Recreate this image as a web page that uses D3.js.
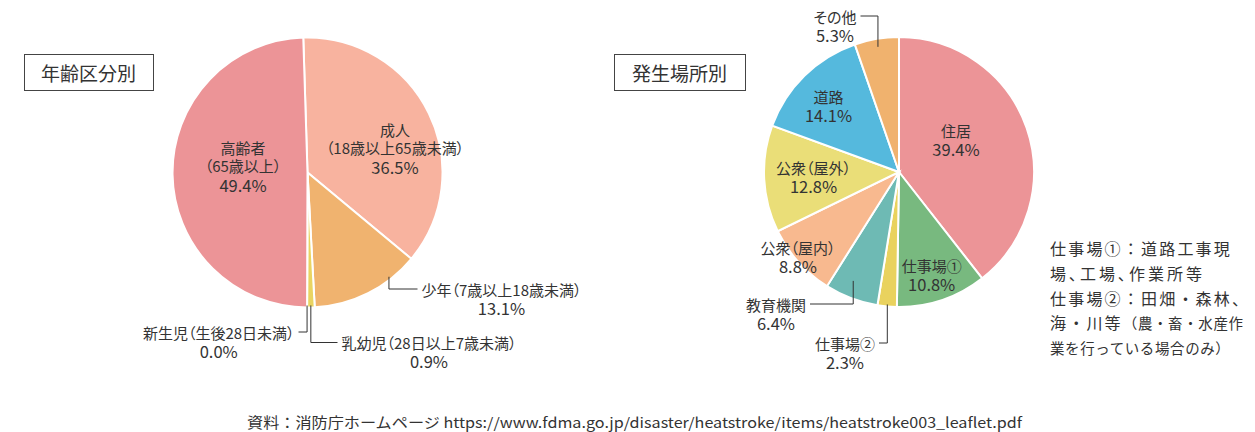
<!DOCTYPE html>
<html>
<head>
<meta charset="utf-8">
<script src="https://cdn.jsdelivr.net/npm/d3@7"></script>
<style>
  body { margin: 0; background: #fff; }
  svg text { font-family: "Noto Sans CJK JP", "Noto Sans", sans-serif; fill: #333; }
  .lbl, .palt { font-feature-settings: "palt"; }
</style>
</head>
<body>
<svg id="chart" width="1255" height="432"></svg>
<script>
// 年齢区分別
const ageLabels = [
  ["成人", "（18歳以上65歳未満）"],
  ["少年（7歳以上18歳未満）"],
  ["乳幼児（28日以上7歳未満）"],
  ["新生児（生後28日未満）"],
  ["高齢者", "（65歳以上）"]
];
const ageValues = [36.5, 13.1, 0.9, 0.0, 49.4];
const ageColors = ["#f8b39f", "#f0b36f", "#e9d462", "#e9d462", "#ec9497"];

// 発生場所別
const placeLabels = [
  ["住居"], ["仕事場①"], ["仕事場②"], ["教育機関"],
  ["公衆（屋内）"], ["公衆（屋外）"], ["道路"], ["その他"]
];
const placeValues = [39.4, 10.8, 2.3, 6.4, 8.8, 12.8, 14.1, 5.3];
const placeColors = ["#ec9497", "#78b97f", "#e9d25e", "#6ebab4",
  "#f8b98f", "#eade78", "#55b9dd", "#f0b26e"];

const noteLines = [
  [["仕事場①：道路工事現", 16, false]],
  [["場、工場、作業所等", 16, true]],
  [["仕事場②：田畑・森林、", 16, false]],
  [["海・川等", 16, false], ["（農・畜・水産作", 14.5, false]],
  [["業を行っている場合のみ）", 14.5, false]]
];
const sourceText = "資料：消防庁ホームページ https://www.fdma.go.jp/disaster/heatstroke/items/heatstroke003_leaflet.pdf";

// label placement relative to pie centre (t, k = leader start inside slice)
const ageLayout = [
  { x: 87.5, y: -43.5 },
  { x: 194, y: 116.5, t: 0.26, k: 0.98 },
  { x: 121.5, y: 170, t: 0.5, k: 0.985 },
  { x: -88.8, y: 159.5, t: 0.5, k: 0.985 },
  { x: -64.5, y: -25.5 }
];
const placeLayout = [
  { x: 57, y: -42 },
  { x: 32.7, y: 93 },
  { x: -54, y: 171, t: 0.5, k: 0.985 },
  { x: -123, y: 132, t: 0.59, k: 0.875 },
  { x: -101, y: 75 },
  { x: -85.5, y: -5 },
  { x: -70.5, y: -76 },
  { x: -64, y: -156, t: 0.5, k: 0.94 }
];

const svg = d3.select("#chart");
const R = 135;
const lineH = 18.8;
const fmt = (v) => d3.format(".1f")(v) + "%";

let drawPie = (cx, cy, labels, values, colors, layout, a0) => {
  let data = values.map((v, i) => ({ value: v, lines: labels[i], color: colors[i], lay: layout[i] }));
  let pie = d3.pie().sort(null).value((d) => d.value).startAngle(a0).endAngle(a0 + 2 * Math.PI);
  let arc = d3.arc().innerRadius(0).outerRadius(R);
  let g = svg.append("g").attr("transform", `translate(${cx}, ${cy})`);

  g.selectAll("path.slice")
    .data(pie(data))
    .enter()
    .append("path")
    .attr("class", "slice")
    .attr("d", arc)
    .attr("fill", (d) => d.data.color)
    .attr("stroke", "#fff")
    .attr("stroke-width", 2);

  pie(data).forEach((d) => {
    let lay = d.data.lay;
    let lines = d.data.lines.concat([fmt(d.data.value)]);
    let t = g.append("text")
      .attr("class", "lbl")
      .attr("text-anchor", "middle")
      .attr("font-size", 15);
    lines.forEach((s, j) => {
      t.append("tspan")
        .attr("x", lay.x)
        .attr("y", lay.y + j * lineH)
        .attr("dominant-baseline", "central")
        .attr("font-size", j === lines.length - 1 ? 16.5 : 15)
        .text(s);
    });

    if (lay.t !== undefined) {
      let a = d.startAngle + lay.t * (d.endAngle - d.startAngle);
      let r = lay.k * R;
      let sx = Math.sin(a) * r;
      let sy = -Math.cos(a) * r;
      let w = t.select("tspan").node().getComputedTextLength();
      let ex = lay.x > sx ? lay.x - w / 2 - 4 : lay.x + w / 2 + 4;
      g.append("path")
        .attr("d", `M${sx},${sy}V${lay.y}H${ex}`)
        .attr("fill", "none")
        .attr("stroke", "#333")
        .attr("stroke-width", 1);
    }
  });
};

let drawTitle = (x, y, w, h, label) => {
  svg.append("rect")
    .attr("x", x + 0.5).attr("y", y + 0.5)
    .attr("width", w).attr("height", h)
    .attr("fill", "#fff")
    .attr("stroke", "#444")
    .attr("stroke-width", 1);
  svg.append("text")
    .attr("x", x + w / 2).attr("y", y + h / 2)
    .attr("text-anchor", "middle")
    .attr("dominant-baseline", "central")
    .attr("font-size", 19)
    .text(label);
};

drawPie(307.5, 172.5, ageLabels, ageValues, ageColors, ageLayout, -1.8 * Math.PI / 180);
drawPie(899, 172, placeLabels, placeValues, placeColors, placeLayout, 0);

drawTitle(24, 54, 129, 36, "年齢区分別");
drawTitle(614, 54, 131, 36, "発生場所別");

noteLines.forEach((parts, i) => {
  let line = svg.append("text")
    .attr("x", 1050)
    .attr("y", 248 + i * 24.8)
    .attr("dominant-baseline", "central");
  parts.forEach((p) => {
    line.append("tspan")
      .attr("class", p[2] ? "palt" : null)
      .attr("font-size", p[1])
      .attr("letter-spacing", p[2] ? 3 : p[1] > 15 ? 2.2 : 0.6)
      .text(p[0]);
  });
});

svg.append("text")
  .attr("x", 247)
  .attr("y", 421)
  .attr("dominant-baseline", "central")
  .attr("font-size", 14.5)
  .attr("textLength", 775)
  .attr("lengthAdjust", "spacingAndGlyphs")
  .text(sourceText);
</script>
</body>
</html>
